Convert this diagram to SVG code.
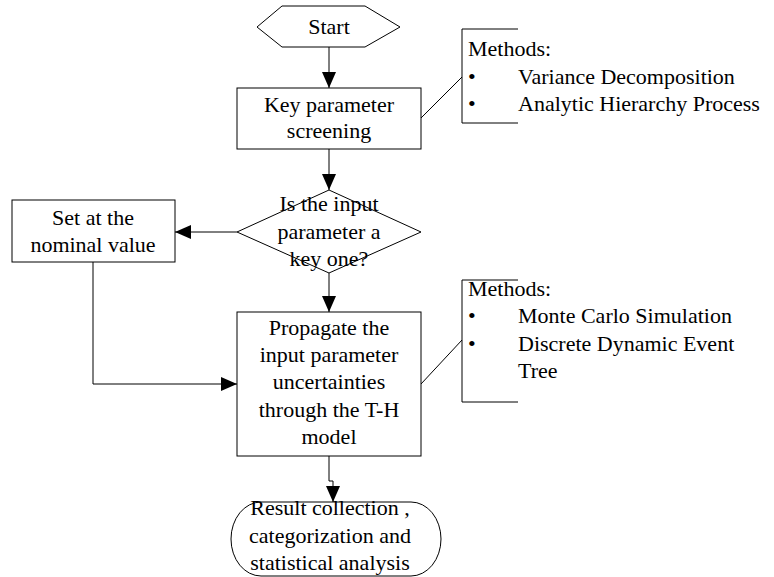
<svg xmlns="http://www.w3.org/2000/svg" width="774" height="577" viewBox="0 0 774 577">
<defs>
<marker id="ah" markerUnits="userSpaceOnUse" markerWidth="16" markerHeight="14" refX="16" refY="7" orient="auto">
<path d="M0,0 L16,7 L0,14 z" fill="#000"/>
</marker>
<style>
.s{fill:#fff;stroke:#000;stroke-width:1}
.l{fill:none;stroke:#000;stroke-width:1}
.c{stroke:#000;stroke-width:1;fill:none;marker-end:url(#ah)}
.m{text-anchor:middle}
</style>
</defs>
<rect width="774" height="577" fill="#fff"/>
<g id="connectors">
<path class="c" d="M329,47 V88"/>
<path class="c" d="M329,149 V190"/>
<path class="c" d="M237,232 H175"/>
<path class="c" d="M329,273 V312"/>
<path class="c" d="M93,262 V384 H237"/>
<path class="c" d="M329,456 V481 H333 V502"/>
<path class="l" d="M421,118 L462,77"/>
<path class="l" d="M421,384 L462,340"/>
</g>
<g font-family="Liberation Serif, Times New Roman, serif" font-size="22" fill="#000">
<g id="start">
<polygon class="s" points="257,27 282,6 365,6 400,27 365,47 282,47"/>
<text class="m" x="329" y="34">Start</text>
</g>
<g id="screening">
<rect class="s" x="237" y="88" width="184" height="61"/>
<text class="m" x="329" y="112">Key parameter</text>
<text class="m" x="329" y="138">screening</text>
</g>
<g id="methods1">
<path class="l" d="M518,29 H462 V123 H518"/>
<text x="468" y="56">Methods:</text>
<text x="468" y="84">•</text>
<text x="518" y="84">Variance Decomposition</text>
<text x="468" y="111">•</text>
<text x="518" y="111">Analytic Hierarchy Process</text>
</g>
<g id="decision">
<polygon class="s" points="329,190 421,232 329,273 237,232"/>
<text class="m" x="329" y="211">Is the input</text>
<text class="m" x="329" y="239">parameter a</text>
<text class="m" x="329" y="266">key one?</text>
</g>
<g id="nominal">
<rect class="s" x="12" y="200" width="163" height="62"/>
<text class="m" x="93" y="225">Set at the</text>
<text class="m" x="93" y="252">nominal value</text>
</g>
<g id="propagate">
<rect class="s" x="237" y="312" width="184" height="144"/>
<text class="m" x="329" y="335">Propagate the</text>
<text class="m" x="329" y="362">input parameter</text>
<text class="m" x="329" y="389">uncertainties</text>
<text class="m" x="329" y="417">through the T-H</text>
<text class="m" x="329" y="444">model</text>
</g>
<g id="methods2">
<path class="l" d="M518,280 H462 V402 H518"/>
<text x="468" y="296">Methods:</text>
<text x="468" y="323">•</text>
<text x="518" y="323">Monte Carlo Simulation</text>
<text x="468" y="351">•</text>
<text x="518" y="351">Discrete Dynamic Event</text>
<text x="518" y="378">Tree</text>
</g>
<g id="result">
<rect class="l" x="231" y="502" width="210" height="74" rx="30" ry="37"/>
<text class="m" x="330" y="515">Result collection ,</text>
<text class="m" x="330" y="543">categorization and</text>
<text class="m" x="330" y="570">statistical analysis</text>
</g>
</g>
</svg>
